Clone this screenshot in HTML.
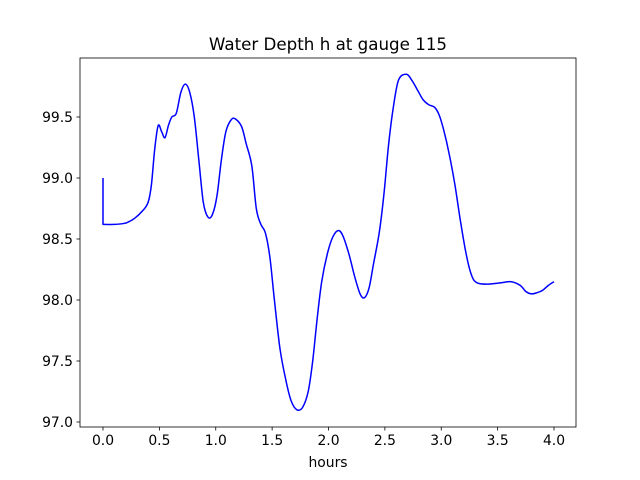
<!DOCTYPE html>
<html><head><meta charset="utf-8"><style>body{margin:0;background:#fff}svg{display:block;font-family:"DejaVu Sans","Liberation Sans",sans-serif}</style></head>
<body>
<svg id="c" width="640" height="480"></svg>
<script>
const times=[0,0,0.1,0.2,0.28,0.35,0.4,0.43,0.46,0.49,0.52,0.55,0.58,0.61,0.65,0.69,0.73,0.77,0.81,0.85,0.89,0.93,0.97,1.01,1.05,1.09,1.14,1.18,1.23,1.27,1.32,1.36,1.4,1.44,1.48,1.52,1.57,1.62,1.67,1.72,1.77,1.82,1.86,1.9,1.94,1.99,2.04,2.09,2.13,2.18,2.23,2.28,2.32,2.36,2.4,2.45,2.49,2.53,2.57,2.62,2.69,2.74,2.79,2.84,2.89,2.94,2.98,3.02,3.07,3.12,3.17,3.22,3.27,3.32,3.42,3.52,3.62,3.7,3.75,3.8,3.85,3.9,3.95,4.0];
const depths=[99.0,98.62,98.62,98.63,98.67,98.73,98.8,98.95,99.25,99.43,99.38,99.33,99.43,99.5,99.53,99.7,99.77,99.7,99.5,99.15,98.8,98.68,98.7,98.85,99.15,99.38,99.48,99.48,99.42,99.28,99.1,98.75,98.62,98.55,98.35,98.0,97.6,97.35,97.17,97.1,97.12,97.25,97.5,97.85,98.15,98.38,98.52,98.57,98.52,98.38,98.2,98.05,98.02,98.1,98.3,98.55,98.85,99.25,99.55,99.8,99.85,99.8,99.72,99.64,99.6,99.58,99.52,99.4,99.2,98.95,98.65,98.38,98.2,98.14,98.13,98.14,98.15,98.12,98.07,98.05,98.06,98.08,98.12,98.15];
const xTicks=[0,0.5,1,1.5,2,2.5,3,3.5,4];
const yTicks=[97,97.5,98,98.5,99,99.5];
const L=80,R=576,T=58,B=427;
const X=t=>103+t*112.75;
const Y=v=>422-(v-97)*122;
const s=document.getElementById('c');const NS='http://www.w3.org/2000/svg';
function el(tag,a,txt){const e=document.createElementNS(NS,tag);for(const k in a)e.setAttribute(k,a[k]);if(txt!==undefined)e.textContent=txt;s.appendChild(e);return e;}
const P=times.map((t,i)=>[X(t),Y(depths[i])]);
let d='M'+P[0][0]+','+P[0][1]+' L'+P[1][0]+','+P[1][1];
for(let i=1;i<P.length-1;i++){const p0=P[Math.max(i-1,1)],p1=P[i],p2=P[i+1],p3=P[Math.min(i+2,P.length-1)];
const c1=[p1[0]+(p2[0]-p0[0])/6,p1[1]+(p2[1]-p0[1])/6],c2=[p2[0]-(p3[0]-p1[0])/6,p2[1]-(p3[1]-p1[1])/6];
d+=' C'+c1.map(v=>v.toFixed(1))+' '+c2.map(v=>v.toFixed(1))+' '+p2.map(v=>v.toFixed(1));}
let p=el('path',{d:d,fill:'none',stroke:'#0000ff','stroke-width':1.5,'stroke-linejoin':'round'});


let f=el('rect',{x:L,y:T,width:R-L,height:B-T,fill:'none',stroke:'#000','stroke-width':0.8});


xTicks.forEach(t=>{const x=X(t);el('line',{x1:x,x2:x,y1:B,y2:B+3.5,stroke:'#000','stroke-width':0.8});
let tx=el('text',{x:x,y:B+18,'text-anchor':'middle','font-size':13.9},t.toFixed(1));

});
yTicks.forEach(v=>{const y=Y(v);el('line',{x1:L,x2:L-3.5,y1:y,y2:y,stroke:'#000','stroke-width':0.8});
let tx=el('text',{x:L-7,y:y+5,'text-anchor':'end','font-size':13.9},v.toFixed(1));

});
let xl=el('text',{x:(L+R)/2,y:467,'text-anchor':'middle','font-size':13.9},'hours');


let ti=el('text',{x:(L+R)/2,y:50,'text-anchor':'middle','font-size':16.7},'Water Depth h at gauge 115');


</script>
</body></html>
